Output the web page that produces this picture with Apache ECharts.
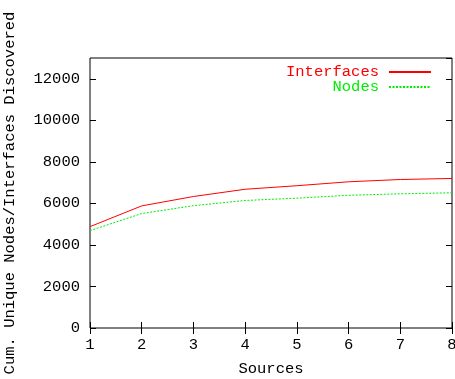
<!DOCTYPE html>
<html>
<head>
<meta charset="utf-8">
<script src="https://cdn.jsdelivr.net/npm/echarts@6/dist/echarts.min.js"></script>
<style>
  html, body { margin: 0; padding: 0; background: #fff; }
  #main { width: 455px; height: 379px; }
</style>
</head>
<body>
<div id="main"></div>
<script>
// data
var sources = [1, 2, 3, 4, 5, 6, 7, 8];
var interfaces = [4880, 5880, 6330, 6680, 6850, 7040, 7150, 7200];
var nodes = [4690, 5510, 5890, 6140, 6250, 6390, 6460, 6510];

var font = 'Liberation Mono';
var fs = 15.5;

function pairs(ys) {
  return sources.map(function (x, i) { return [x, ys[i]]; });
}

var chart = echarts.init(document.getElementById('main'));

var tickStyle = { show: true, inside: true, length: 6, lineStyle: { color: '#000', width: 1 } };

var option = {
  animation: false,
  backgroundColor: '#fff',
  grid: { left: 90, right: 3, top: 58, bottom: 51, outerBoundsMode: 'none',
    show: true, borderColor: '#000', borderWidth: 1 },
  legend: {
    right: 23, top: 64, padding: 0, orient: 'vertical', align: 'right',
    itemWidth: 42, itemHeight: 10, itemGap: -1,
    itemStyle: { opacity: 0 },
    textStyle: { fontFamily: font, fontSize: fs, padding: [0, 5, 0, 0] },
    data: [
      { name: 'Interfaces', textStyle: { color: '#ff0000' } },
      { name: 'Nodes', textStyle: { color: '#00ee00' } }
    ]
  },
  xAxis: [{
    type: 'value', min: 1, max: 8, interval: 1,
    name: 'Sources', nameLocation: 'middle', nameGap: 33,
    nameTextStyle: { fontFamily: font, fontSize: fs, color: '#000' },
    axisLine: { show: false }, axisTick: tickStyle, splitLine: { show: false },
    axisLabel: { fontFamily: font, fontSize: fs, color: '#000', margin: 9 }
  }, {
    type: 'value', min: 1, max: 8, interval: 1, position: 'top',
    axisLine: { show: false }, axisTick: tickStyle, splitLine: { show: false },
    axisLabel: { show: false }
  }],
  yAxis: [{
    type: 'value', min: 0, max: 13000, interval: 2000,
    name: 'Cum. Unique Nodes/Interfaces Discovered', nameLocation: 'middle', nameGap: 72,
    nameTextStyle: { fontFamily: font, fontSize: fs, color: '#000' },
    axisLine: { show: false }, axisTick: tickStyle, splitLine: { show: false },
    axisLabel: { fontFamily: font, fontSize: fs, color: '#000', margin: 10,
      showMaxLabel: false, formatter: function (v) { return String(v); } }
  }, {
    type: 'value', min: 0, max: 13000, interval: 2000, position: 'right',
    axisLine: { show: false }, axisTick: tickStyle, splitLine: { show: false },
    axisLabel: { show: false }
  }],
  series: [{
    name: 'Interfaces', type: 'line', data: pairs(interfaces),
    symbol: 'none', color: '#ff0000',
    lineStyle: { width: 1, color: '#ff0000' }
  }, {
    name: 'Nodes', type: 'line', data: pairs(nodes),
    symbol: 'none', color: '#00ee00',
    lineStyle: { width: 1, color: '#00ee00', type: [2, 1.5] }
  }]
};

chart.setOption(option);
</script>
</body>
</html>
